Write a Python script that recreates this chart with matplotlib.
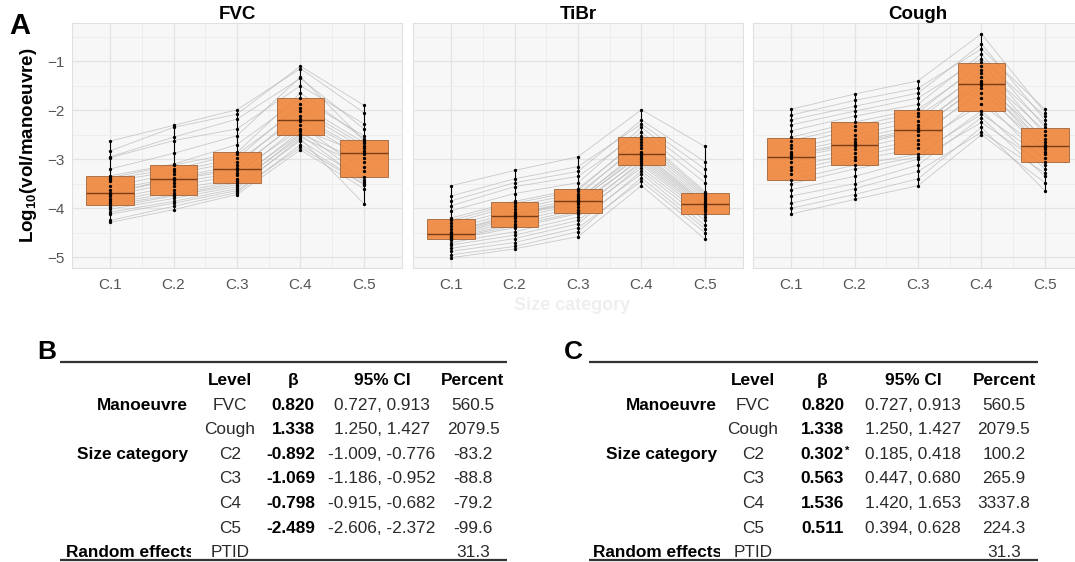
"""
Recreate: panel A (three facet box plots with paired participant lines)
and panels B / C (regression result tables).
"""

import numpy as np
import matplotlib
matplotlib.use("Agg")
import matplotlib.pyplot as plt
from matplotlib.patches import Rectangle

plt.rcParams["font.family"] = ["Liberation Sans", "DejaVu Sans"]
plt.rcParams["mathtext.fontset"] = "custom"
plt.rcParams["mathtext.rm"] = "Liberation Sans"
plt.rcParams["mathtext.bf"] = "Liberation Sans:bold"
plt.rcParams["mathtext.default"] = "bf"

# ---- data: panel A ------------------------------------------------------
categories = ["C.1", "C.2", "C.3", "C.4", "C.5"]
facets = ["FVC", "TiBr", "Cough"]

# one value per participant per size category (list position = participant)
fvc_c1 = [-2.63, -2.83, -2.95, -2.97, -3.20, -3.34, -3.38, -3.40, -3.45, -3.55, -3.62, -3.68,
          -3.70, -3.75, -3.82, -3.86, -3.90, -3.93, -3.98, -4.02, -4.08, -4.12, -4.25, -4.29]
fvc_c2 = [-2.31, -2.35, -2.55, -2.62, -2.88, -3.10, -3.12, -3.20, -3.25, -3.30, -3.38, -3.40,
          -3.42, -3.48, -3.55, -3.62, -3.68, -3.73, -3.75, -3.80, -3.86, -3.90, -3.96, -4.03]
fvc_c3 = [-1.99, -2.08, -2.18, -2.38, -2.52, -2.70, -2.86, -2.90, -2.98, -3.05, -3.12, -3.18,
          -3.22, -3.28, -3.33, -3.40, -3.45, -3.48, -3.52, -3.56, -3.60, -3.64, -3.68, -3.72]
fvc_c4 = [-1.15, -1.10, -1.35, -1.50, -1.32, -1.76, -1.65, -1.95, -1.88, -2.12, -2.02, -2.22,
          -2.18, -2.38, -2.30, -2.48, -2.42, -2.55, -2.50, -2.62, -2.58, -2.76, -2.70, -2.81]
fvc_c5 = [-2.05, -1.90, -2.38, -2.28, -2.62, -2.52, -2.58, -2.72, -2.66, -2.84, -2.78, -2.98,
          -2.87, -2.90, -3.25, -3.06, -3.37, -3.15, -3.46, -3.42, -3.91, -3.52, -3.50, -3.60]

tibr_c1 = [-3.54, -3.75, -3.85, -3.95, -4.05, -4.20, -4.25, -4.30, -4.36, -4.42, -4.48, -4.50,
           -4.54, -4.56, -4.58, -4.60, -4.62, -4.64, -4.70, -4.75, -4.82, -4.88, -4.95, -5.01]
tibr_c2 = [-3.23, -3.40, -3.48, -3.56, -3.70, -3.86, -3.90, -3.95, -4.02, -4.08, -4.12, -4.14,
           -4.16, -4.20, -4.26, -4.32, -4.36, -4.40, -4.48, -4.55, -4.62, -4.70, -4.78, -4.83]
tibr_c3 = [-2.95, -3.15, -3.25, -3.35, -3.48, -3.60, -3.64, -3.70, -3.75, -3.80, -3.84, -3.85,
           -3.87, -3.92, -3.98, -4.03, -4.08, -4.11, -4.18, -4.25, -4.32, -4.40, -4.48, -4.58]
tibr_c4 = [-1.99, -2.28, -2.20, -2.45, -2.35, -2.58, -2.53, -2.70, -2.64, -2.85, -2.78, -2.92,
           -2.88, -3.00, -2.96, -3.08, -3.04, -3.18, -3.12, -3.30, -3.24, -3.45, -3.38, -3.54]
tibr_c5 = [-2.74, -3.20, -3.05, -3.48, -3.35, -3.70, -3.66, -3.78, -3.74, -3.86, -3.82, -3.92,
           -3.90, -3.98, -3.95, -4.06, -4.02, -4.18, -4.12, -4.35, -4.25, -4.50, -4.42, -4.63]

cough_c1 = [-1.98, -2.10, -2.20, -2.30, -2.42, -2.55, -2.62, -2.70, -2.78, -2.85, -2.90, -2.93,
            -2.97, -3.05, -3.15, -3.22, -3.30, -3.42, -3.50, -3.62, -3.75, -3.90, -4.00, -4.12]
cough_c2 = [-1.67, -1.80, -1.92, -2.02, -2.12, -2.24, -2.32, -2.40, -2.50, -2.58, -2.65, -2.68,
            -2.72, -2.80, -2.88, -2.95, -3.02, -3.12, -3.20, -3.35, -3.50, -3.60, -3.72, -3.82]
cough_c3 = [-1.40, -1.55, -1.65, -1.75, -1.88, -1.98, -2.05, -2.12, -2.22, -2.30, -2.36, -2.40,
            -2.42, -2.50, -2.60, -2.68, -2.78, -2.90, -2.95, -3.00, -3.12, -3.25, -3.40, -3.54]
cough_c4 = [-0.44, -0.75, -0.65, -0.95, -0.85, -1.10, -1.02, -1.25, -1.18, -1.40, -1.32, -1.48,
            -1.45, -1.65, -1.55, -1.88, -1.75, -2.08, -2.01, -2.25, -2.15, -2.45, -2.35, -2.50]
cough_c5 = [-2.05, -1.98, -2.20, -2.12, -2.35, -2.28, -2.50, -2.42, -2.65, -2.58, -2.72, -2.70,
            -2.80, -2.75, -2.90, -2.85, -3.05, -2.98, -3.20, -3.12, -3.35, -3.28, -3.64, -3.48]

# box statistics: (q3, median, q1) per category
fvc_boxes = [(-3.34, -3.69, -3.93), (-3.11, -3.41, -3.73), (-2.86, -3.20, -3.48),
             (-1.76, -2.20, -2.50), (-2.61, -2.88, -3.37)]
tibr_boxes = [(-4.23, -4.52, -4.63), (-3.88, -4.15, -4.39), (-3.61, -3.86, -4.10),
              (-2.54, -2.90, -3.12), (-3.69, -3.91, -4.12)]
cough_boxes = [(-2.56, -2.95, -3.42), (-2.25, -2.70, -3.12), (-1.99, -2.41, -2.90),
               (-1.03, -1.46, -2.01), (-2.36, -2.73, -3.05)]

panel_data = {
    "FVC": ([fvc_c1, fvc_c2, fvc_c3, fvc_c4, fvc_c5], fvc_boxes),
    "TiBr": ([tibr_c1, tibr_c2, tibr_c3, tibr_c4, tibr_c5], tibr_boxes),
    "Cough": ([cough_c1, cough_c2, cough_c3, cough_c4, cough_c5], cough_boxes),
}

# ---- data: tables B and C ----------------------------------------------
header = ["Level", "β", "95% CI", "Percent"]
groups = ["Manoeuvre", "", "Size category", "", "", "", "Random effects"]
levels = ["FVC", "Cough", "C2", "C3", "C4", "C5", "PTID"]

beta_b = ["0.820", "1.338", "-0.892", "-1.069", "-0.798", "-2.489", ""]
ci_b = ["0.727, 0.913", "1.250, 1.427", "-1.009, -0.776", "-1.186, -0.952",
        "-0.915, -0.682", "-2.606, -2.372", ""]
pct_b = ["560.5", "2079.5", "-83.2", "-88.8", "-79.2", "-99.6", "31.3"]

beta_c = ["0.820", "1.338", "0.302", "0.563", "1.536", "0.511", ""]
beta_c_mark = ["", "", "*", "", "", "", ""]
ci_c = ["0.727, 0.913", "1.250, 1.427", "0.185, 0.418", "0.447, 0.680",
        "1.420, 1.653", "0.394, 0.628", ""]
pct_c = ["560.5", "2079.5", "100.2", "265.9", "3337.8", "224.3", "31.3"]

# ---- figure --------------------------------------------------------------
W, H = 1075, 562
fig = plt.figure(figsize=(W / 100, H / 100), dpi=100)

BOX_COLOR = "#f0853a"
panel_left = [72, 413, 753]
panel_w, panel_top, panel_bot = 330, 23, 268

x = np.arange(1, 6)
for k, name in enumerate(facets):
    ax = fig.add_axes([panel_left[k] / W, 1 - panel_bot / H, panel_w / W, (panel_bot - panel_top) / H])
    ax.set_facecolor("#f7f7f7")
    values, boxes = panel_data[name]
    vals = np.array(values)            # shape (5, n_participants)

    # participant lines
    for j in range(vals.shape[1]):
        ax.plot(x, vals[:, j], color="#b5b5b5", lw=0.6, alpha=0.7, zorder=2)

    stats = []
    for i in range(5):
        q3, med, q1 = boxes[i]
        stats.append(dict(med=med, q1=q1, q3=q3, whislo=min(values[i]), whishi=max(values[i]), fliers=[]))
    ax.bxp(stats, positions=x, widths=0.75, patch_artist=True, showcaps=False,
           boxprops=dict(facecolor=BOX_COLOR, edgecolor="#9a5a30", lw=0.6, alpha=0.9),
           medianprops=dict(color="#7a3d18", lw=1.0),
           whiskerprops=dict(color="black", lw=0.8), zorder=3)

    for i in range(5):
        ax.plot(np.full(len(values[i]), x[i]), values[i], "o", color="black", ms=2.4, mew=0, zorder=4)

    ax.set_xlim(0.4, 5.6)
    ax.set_ylim(-5.22, -0.22)
    ax.set_xticks(x)
    ax.set_xticklabels(categories)
    ax.set_yticks([-5, -4, -3, -2, -1])
    ax.set_yticks(np.arange(-5, -0.2, 0.5), minor=True)
    ax.set_xticks(np.arange(1.5, 5.5, 1), minor=True)
    ax.grid(which="major", color="#e3e3e3", lw=0.9)
    ax.grid(which="minor", color="#ececec", lw=0.6)
    ax.set_axisbelow(True)
    ax.tick_params(which="both", length=0, labelsize=11, labelcolor="#555555", pad=7)
    ax.tick_params(axis="y", pad=5)
    if k == 0:
        ax.set_yticklabels(["\u22125", "\u22124", "\u22123", "\u22122", "\u22121"])
        ax.set_ylabel(r"Log$_{10}$(vol/manoeuvre)", fontsize=13.5, fontweight="bold", labelpad=6)
    else:
        ax.set_yticklabels([])
    for s in ax.spines.values():
        s.set_color("#e0e0e0")
        s.set_linewidth(0.8)
    ax.set_title(name, fontsize=13.5, fontweight="bold", pad=1.5)

fig.text(9 / W, 1 - 26 / H, "A", fontsize=21, fontweight="bold", va="center", ha="left")
fig.text(572 / W, 1 - 305 / H, "Size category", fontsize=13, fontweight="bold",
         color="#efefef", ha="center", va="center")

# ---- tables ----------------------------------------------------------------
ov = fig.add_axes([0, 0, 1, 1])
ov.set_xlim(0, W)
ov.set_ylim(H, 0)
ov.axis("off")

FS = 12.4
TXT = "#2a2a2a"
base_header = 385
row_base = [410, 434, 459, 483, 508, 533, 557]


def draw_table(letter, lx, rule_x0, rule_x1, label_right, label_left, col_level,
               col_beta, col_ci, col_pct, betas, marks, cis, pcts):
    ov.text(lx, 352, letter, fontsize=19, fontweight="bold", ha="left", va="center")
    ov.plot([rule_x0, rule_x1], [362, 362], color="#333333", lw=1.6, solid_capstyle="butt")
    ov.plot([rule_x0, rule_x1], [560, 560], color="#333333", lw=1.6, solid_capstyle="butt", clip_on=False)
    for txt, cx in zip(header, [col_level, col_beta - 22, col_ci, col_pct]):
        ov.text(cx, base_header, txt, fontsize=FS, fontweight="bold", ha="center", va="baseline")
    clip = Rectangle((label_left - 5, 330), label_right - label_left + 8, 240, transform=ov.transData)
    for i in range(len(levels)):
        yb = row_base[i]
        if groups[i]:
            t = ov.text(label_right if i < 6 else label_left, yb, groups[i], fontsize=FS,
                        fontweight="bold", ha="right" if i < 6 else "left", va="baseline", clip_on=True)
            t.set_clip_path(clip)
        ov.text(col_level, yb, levels[i], fontsize=FS, ha="center", va="baseline", color=TXT)
        if betas[i]:
            ov.text(col_beta, yb, betas[i], fontsize=FS, fontweight="bold", ha="right", va="baseline")
        if marks[i]:
            ov.text(col_beta + 1, yb - 5, marks[i], fontsize=8, fontweight="bold", ha="left", va="baseline")
        if cis[i]:
            ov.text(col_ci, yb, cis[i], fontsize=FS, ha="center", va="baseline", color=TXT)
        ov.text(col_pct, yb, pcts[i], fontsize=FS, ha="center", va="baseline", color=TXT)


draw_table("B", 37, 60, 507, 188, 66, 230, 315, 382, 473,
           beta_b, [""] * 7, ci_b, pct_b)
draw_table("C", 564, 589, 1038, 717, 593, 753, 844, 913, 1004,
           beta_c, beta_c_mark, ci_c, pct_c)

fig.savefig("out.png", dpi=100)
